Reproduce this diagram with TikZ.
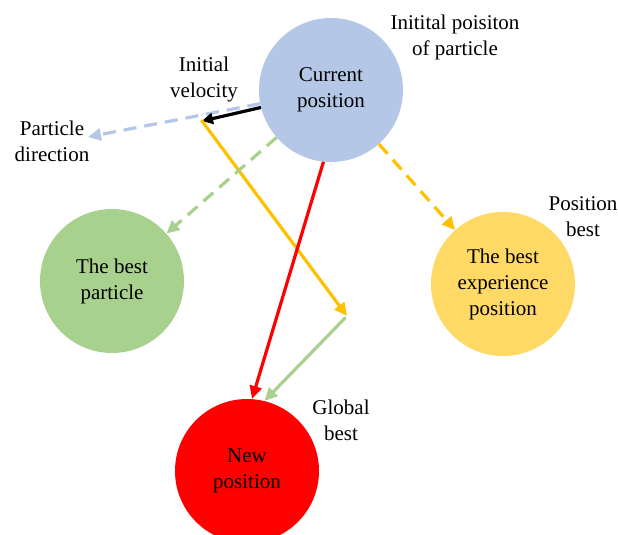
\documentclass[tikz,border=0pt]{standalone}
\usepackage{fontspec}
\setmainfont{Liberation Serif}
\usetikzlibrary{arrows.meta}
\definecolor{cblue}{HTML}{B4C7E7}
\definecolor{cgreen}{HTML}{A9D18E}
\definecolor{cyellow}{HTML}{FFD966}
\definecolor{corange}{HTML}{FFC000}
\definecolor{cred}{HTML}{FF0000}
\tikzset{
  bubble/.style={circle, minimum size=144pt, inner sep=0pt, align=center, font=\fontsize{21}{26}\selectfont},
  label text/.style={align=center, inner sep=0pt, font=\fontsize{21}{26}\selectfont},
  conn/.style={line width=3.2pt, -{Triangle[length=13pt,width=12pt]}},
  dashconn/.style={conn, dash pattern=on 13pt off 8pt},
}
\begin{document}
\begin{tikzpicture}[x=1pt,y=-1pt]
\useasboundingbox (0,0) rectangle (618,535);
\node[bubble, fill=cblue] (cur) at (331,90) {Current\\position};
\node[bubble, fill=cgreen] (best) at (112,281) {The best\\particle};
\node[bubble, fill=cyellow] (exp) at (503,284) {The best\\experience\\position};
\node[bubble, fill=cred] (new) at (247,471) {New\\position};

\node[label text] (t1) at (455,37) {Initital poisiton\\of particle};
\node[label text] (t2) at (204,79) {Initial\\velocity};
\node[label text] (t3) at (52,141) {Particle\\direction};
\node[label text] (t4) at (583,217) {Position\\best};
\node[label text] (t5) at (341,420) {Global\\best};

\coordinate (pd) at (88,137);
\coordinate (iv) at (202,121);
\coordinate (gb) at (347,316);

\draw[dashconn, cblue] (cur) -- (pd);
\draw[conn, black, -{Triangle[length=11pt,width=11pt]}] (cur.194) -- (iv);
\draw[conn, corange, shorten <=-1pt] (iv) -- (gb);
\draw[dashconn, cgreen] (cur) -- (best);
\draw[dashconn, corange] (cur) -- (exp);
\draw[conn, cred] (cur.264) -- (new.86);
\draw[conn, cgreen, shorten <=2pt] (gb) -- (new.76);
\end{tikzpicture}
\end{document}
